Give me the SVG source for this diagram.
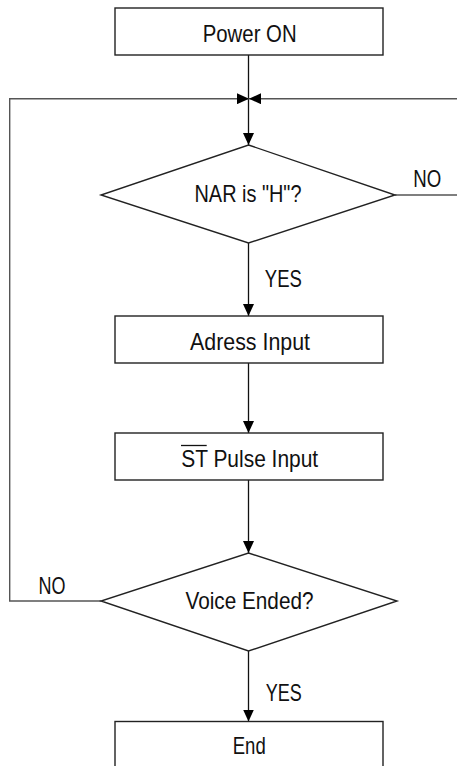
<svg xmlns="http://www.w3.org/2000/svg" width="457" height="766" viewBox="0 0 457 766">
<style>
.shape{fill:#fff;stroke:#222;stroke-width:1.4}
.conn{fill:none;stroke:#111;stroke-width:1.3}
.loop{fill:none;stroke:#555;stroke-width:1.4}
text{font-family:"Liberation Sans Narrow","Liberation Sans",Arial,sans-serif;font-size:24px;fill:#111}
.c{text-anchor:middle}
</style>
<defs>
<marker id="ah" markerUnits="userSpaceOnUse" markerWidth="12" markerHeight="11" refX="12" refY="5.5" orient="auto">
<path d="M0,0 L12,5.5 L0,11 z" fill="#000"/>
</marker>
</defs>
<g id="connectors">
<line class="conn" x1="248.5" y1="55" x2="248.5" y2="145" marker-end="url(#ah)"/>
<polyline class="loop" points="101,601 9.7,601 9.7,98.7 249,98.7" marker-end="url(#ah)"/>
<polyline class="loop" points="395,195 457,195"/>
<polyline class="loop" points="458,98.7 249,98.7" marker-end="url(#ah)"/>
<line class="conn" x1="248.5" y1="243" x2="248.5" y2="316" marker-end="url(#ah)"/>
<line class="conn" x1="248.5" y1="363" x2="248.5" y2="433" marker-end="url(#ah)"/>
<line class="conn" x1="248.5" y1="480" x2="248.5" y2="553" marker-end="url(#ah)"/>
<line class="conn" x1="248.5" y1="651" x2="248.5" y2="721.5" marker-end="url(#ah)"/>
<text x="427.3" y="186.7" class="c" textLength="28" lengthAdjust="spacingAndGlyphs">NO</text>
<text x="283.3" y="286.7" class="c" textLength="37" lengthAdjust="spacingAndGlyphs">YES</text>
<text x="52" y="594" class="c" textLength="27" lengthAdjust="spacingAndGlyphs">NO</text>
<text x="283.7" y="701" class="c" textLength="36" lengthAdjust="spacingAndGlyphs">YES</text>
</g>
<g id="power-on">
<rect class="shape" x="115" y="8" width="268" height="47"/>
<text x="249.7" y="42.3" class="c" textLength="94" lengthAdjust="spacingAndGlyphs">Power ON</text>
</g>
<g id="nar-decision">
<polygon class="shape" points="248.5,145 395,195 248.5,243 101,195"/>
<text x="248" y="201.7" class="c" textLength="107" lengthAdjust="spacingAndGlyphs">NAR is "H"?</text>
</g>
<g id="address-input">
<rect class="shape" x="115" y="316" width="268" height="47"/>
<text x="250" y="350" class="c" textLength="120" lengthAdjust="spacingAndGlyphs">Adress Input</text>
</g>
<g id="st-pulse-input">
<rect class="shape" x="115" y="433" width="268" height="47"/>
<text x="249.7" y="466.7" class="c" textLength="137" lengthAdjust="spacingAndGlyphs">ST Pulse Input</text>
<line x1="181" y1="445.5" x2="206.7" y2="445.5" stroke="#111" stroke-width="1.3"/>
</g>
<g id="voice-decision">
<polygon class="shape" points="248.5,553 397,601 248.5,651 101,601"/>
<text x="249.5" y="609" class="c" textLength="128" lengthAdjust="spacingAndGlyphs">Voice Ended?</text>
</g>
<g id="end">
<rect class="shape" x="115" y="721.5" width="268" height="50"/>
<text x="249.2" y="754.3" class="c" textLength="33" lengthAdjust="spacingAndGlyphs">End</text>
</g>
</svg>
